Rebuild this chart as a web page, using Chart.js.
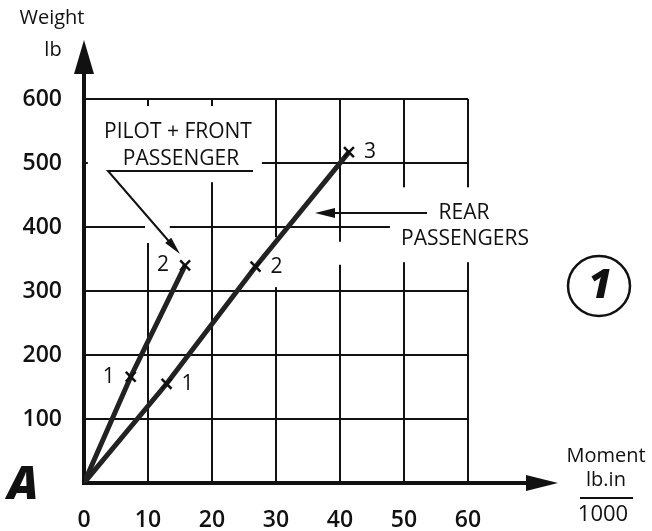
<!DOCTYPE html>
<html>
<head>
<meta charset="utf-8">
<script src="https://cdn.jsdelivr.net/npm/chart.js@4.4.1/dist/chart.umd.min.js"></script>
<style>
  html, body { margin: 0; padding: 0; background: #fff; }
  canvas { display: block; }
</style>
</head>
<body>
<canvas id="grafico" width="652" height="531"></canvas>
<script>
// values (moment in lb.in/1000, weight in lb)
const pilotMoment = [0, 7.3, 15.8];
const pilotWeight = [0, 166, 340];
const pilotLabels = ['', '1', '2'];

const rearMoment = [0, 12.9, 26.8, 41.4];
const rearWeight = [0, 155, 338, 517];
const rearLabels = ['', '1', '2', '3'];

const xTicks = [0, 10, 20, 30, 40, 50, 60];
const yTicks = [100, 200, 300, 400, 500, 600];

const FONT = "'Open Sans', 'DejaVu Sans', sans-serif";
const W = '500 ';
const INK = '#111';

// pieces of grid that are left out in the drawing (data units)
const vGaps = [
  { x: 10, from: 589, to: 375 },
  { x: 20, from: 589, to: 470 },
  { x: 30, from: 384, to: 306 },
  { x: 40, from: 377, to: 341 },
  { x: 50, from: 462, to: 345 },
  { x: 60, from: 462, to: 345 }
];
const hGaps = [
  { y: 500, from: 0.6, to: 27.8 },
  { y: 400, from: 10.2, to: 13.4 },
  { y: 400, from: 47.8, to: 62 }
];

function toPoints(xs, ys) {
  return xs.map((x, i) => ({ x: x, y: ys[i] }));
}

function arrowHead(ctx, x1, y1, x2, y2, len, half) {
  const a = Math.atan2(y2 - y1, x2 - x1);
  ctx.beginPath();
  ctx.moveTo(x2, y2);
  ctx.lineTo(x2 - len * Math.cos(a) + half * Math.sin(a), y2 - len * Math.sin(a) - half * Math.cos(a));
  ctx.lineTo(x2 - len * Math.cos(a) - half * Math.sin(a), y2 - len * Math.sin(a) + half * Math.cos(a));
  ctx.closePath();
  ctx.fill();
}

const decor = {
  id: 'decor',
  beforeDatasetsDraw(chart) {
    const { ctx, scales: { x, y } } = chart;
    ctx.save();
    ctx.fillStyle = '#fff';
    vGaps.forEach(g => {
      const px = x.getPixelForValue(g.x);
      const top = y.getPixelForValue(g.from);
      const bot = y.getPixelForValue(g.to);
      ctx.fillRect(px - 3, top, 6, bot - top);
    });
    hGaps.forEach(g => {
      const py = y.getPixelForValue(g.y);
      const l = x.getPixelForValue(g.from);
      const r = x.getPixelForValue(g.to);
      ctx.fillRect(l, py - 3, r - l, 6);
    });
    ctx.restore();
  },
  afterDraw(chart) {
    const { ctx, chartArea: a, scales: { x, y } } = chart;
    ctx.save();
    ctx.fillStyle = INK;
    ctx.strokeStyle = INK;

    // axis arrows
    ctx.lineWidth = 4;
    ctx.beginPath();
    ctx.moveTo(a.left, a.top);
    ctx.lineTo(a.left, 70);
    ctx.moveTo(a.right, a.bottom);
    ctx.lineTo(530, a.bottom);
    ctx.stroke();
    arrowHead(ctx, a.left, 100, a.left, 40, 34, 10);
    arrowHead(ctx, 500, a.bottom, 558, a.bottom, 32, 8);

    // point labels
    ctx.font = W + '21px ' + FONT;
    ctx.textBaseline = 'middle';
    ctx.textAlign = 'center';
    pilotLabels.forEach((t, i) => {
      if (!t) return;
      ctx.fillText(t, x.getPixelForValue(pilotMoment[i]) - 22, y.getPixelForValue(pilotWeight[i]));
    });
    rearLabels.forEach((t, i) => {
      if (!t) return;
      ctx.fillText(t, x.getPixelForValue(rearMoment[i]) + 21, y.getPixelForValue(rearWeight[i]));
    });

    // axis titles
    ctx.font = W + '20px ' + FONT;
    ctx.fillText('Weight', 52, 18);
    ctx.fillText('lb', 53, 50);
    ctx.fillText('Moment', 606, 456);
    ctx.fillText('lb.in', 606, 480);
    ctx.font = W + '22px ' + FONT;
    ctx.fillText('1000', 603, 515);
    ctx.lineWidth = 2;
    ctx.beginPath();
    ctx.moveTo(580, 498);
    ctx.lineTo(633, 498);
    ctx.stroke();

    // series labels
    ctx.font = W + '21px ' + FONT;
    ctx.fillText('PILOT + FRONT', 178, 132);
    ctx.fillText('PASSENGER', 181, 159);
    ctx.fillText('REAR', 464, 213);
    ctx.fillText('PASSENGERS', 465, 239);

    ctx.lineWidth = 2;
    ctx.beginPath();
    ctx.moveTo(253, 171);
    ctx.lineTo(108, 171);
    ctx.lineTo(173, 246);
    ctx.moveTo(427, 213);
    ctx.lineTo(330, 213);
    ctx.stroke();
    arrowHead(ctx, 108, 171, 180, 254, 18, 4);
    arrowHead(ctx, 427, 213, 315, 213, 20, 5);

    // panel letter and figure number
    ctx.font = 'italic 800 46px ' + FONT;
    ctx.fillText('A', 23, 486);
    ctx.lineWidth = 2.5;
    ctx.beginPath();
    ctx.ellipse(599, 286, 31, 30, 0, 0, Math.PI * 2);
    ctx.stroke();
    ctx.font = 'italic 800 40px ' + FONT;
    ctx.fillText('1', 600, 287);
    ctx.restore();
  }
};

const data = {
  datasets: [{
    label: 'Pilot + front passenger',
    data: toPoints(pilotMoment, pilotWeight),
    showLine: true,
    borderColor: '#222',
    borderWidth: 5,
    pointStyle: 'crossRot',
    pointRadius: [0, 7, 7],
    pointBorderColor: INK,
    pointBorderWidth: 2.5
  }, {
    label: 'Rear passengers',
    data: toPoints(rearMoment, rearWeight),
    showLine: true,
    borderColor: '#222',
    borderWidth: 5,
    pointStyle: 'crossRot',
    pointRadius: [0, 7, 7, 7],
    pointBorderColor: INK,
    pointBorderWidth: 2.5
  }]
};

const options = {
  responsive: false,
  animation: false,
  devicePixelRatio: 1,
  layout: { padding: { top: 99, right: 184, left: 0, bottom: 0 } },
  plugins: {
    legend: { display: false },
    tooltip: { enabled: false }
  },
  scales: {
    x: {
      type: 'linear',
      min: 0,
      max: 60,
      afterFit: s => { s.height = 48; },
      afterBuildTicks: s => { s.ticks = xTicks.map(v => ({ value: v })); },
      ticks: {
        padding: 24,
        color: INK,
        font: { family: FONT, size: 23, weight: '600' }
      },
      grid: { color: INK, lineWidth: 2, drawTicks: false },
      border: { color: INK, width: 4 }
    },
    y: {
      type: 'linear',
      min: 0,
      max: 600,
      afterFit: s => { s.width = 84; },
      afterBuildTicks: s => { s.ticks = [0].concat(yTicks).map(v => ({ value: v })); },
      ticks: {
        padding: 22,
        color: INK,
        font: { family: FONT, size: 23, weight: '600' },
        callback: v => (yTicks.includes(v) ? v : '')
      },
      grid: { color: INK, lineWidth: 2, drawTicks: false },
      border: { color: INK, width: 4 }
    }
  }
};

new Chart(document.getElementById('grafico'), {
  type: 'scatter',
  data: data,
  options: options,
  plugins: [decor]
});
</script>
</body>
</html>
